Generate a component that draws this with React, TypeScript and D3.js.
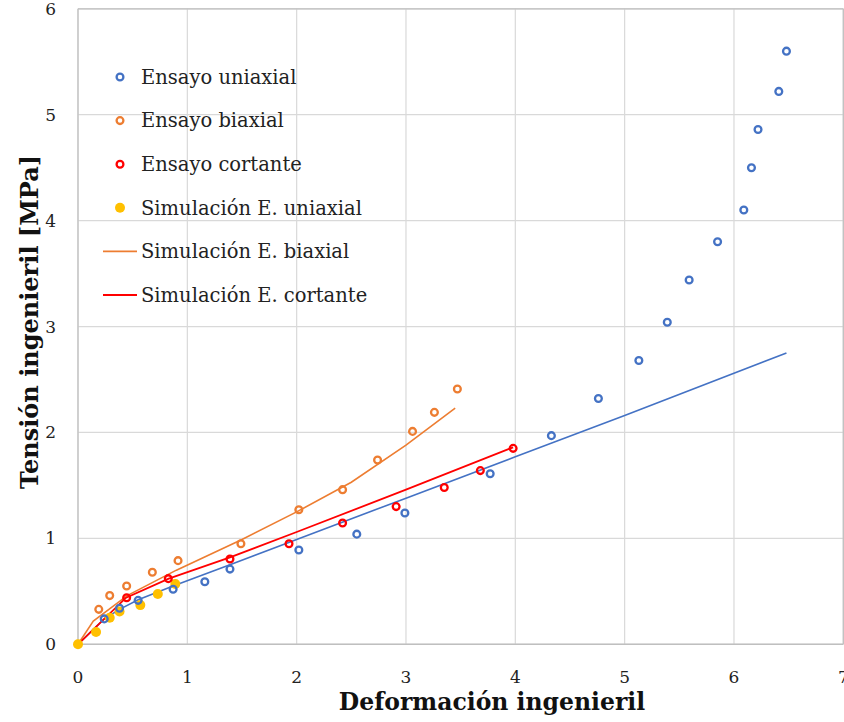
import React from 'react';
import * as d3 from 'd3';

type Pt = [number, number];

// Ensayo uniaxial (open blue circles)
const ensayoUniaxial: Pt[] = [
  [0.24, 0.24], [0.38, 0.34], [0.55, 0.415], [0.87, 0.52], [1.16, 0.59], [1.39, 0.71],
  [2.02, 0.89], [2.55, 1.04], [2.99, 1.24], [3.77, 1.61], [4.33, 1.97], [4.76, 2.32],
  [5.13, 2.68], [5.39, 3.04], [5.59, 3.44], [5.85, 3.80], [6.09, 4.10], [6.16, 4.50],
  [6.22, 4.86], [6.41, 5.22], [6.48, 5.60],
];
// Ensayo biaxial (open orange circles)
const ensayoBiaxial: Pt[] = [
  [0.19, 0.33], [0.29, 0.46], [0.445, 0.55], [0.68, 0.68], [0.915, 0.79], [1.49, 0.95],
  [2.02, 1.27], [2.42, 1.46], [2.74, 1.74], [3.06, 2.01], [3.26, 2.19], [3.47, 2.41],
];
// Ensayo cortante (open red circles)
const ensayoCortante: Pt[] = [
  [0.445, 0.44], [0.826, 0.62], [1.39, 0.805], [1.93, 0.95], [2.42, 1.145],
  [2.91, 1.30], [3.35, 1.48], [3.68, 1.64], [3.98, 1.85],
];
// Simulación E. uniaxial (filled yellow dots)
const simUniaxial: Pt[] = [
  [0, 0], [0.165, 0.116], [0.29, 0.25], [0.38, 0.31], [0.57, 0.37], [0.73, 0.475], [0.89, 0.57],
];
// Simulación E. biaxial (orange line)
const simBiaxial: Pt[] = [
  [0, 0], [0.14, 0.22], [0.45, 0.46], [0.9, 0.7], [1.5, 0.99], [2.0, 1.25],
  [2.5, 1.53], [3.0, 1.88], [3.45, 2.23],
];
// Simulación E. cortante (red line)
const simCortante: Pt[] = [
  [0, 0], [0.44, 0.44], [0.83, 0.62], [1.39, 0.82], [2.0, 1.06], [3.0, 1.46], [3.98, 1.86],
];
// blue line (no legend entry)
const simUniaxialLinea: Pt[] = [
  [0, 0], [0.24, 0.24], [0.38, 0.33], [0.55, 0.42], [0.87, 0.55], [1.39, 0.75],
  [2.0, 0.99], [3.0, 1.38], [4.0, 1.77], [5.0, 2.16], [6.48, 2.75],
];

const xTicks = [0, 1, 2, 3, 4, 5, 6, 7];
const yTicks = [0, 1, 2, 3, 4, 5, 6];

const BLUE = '#4472c4';
const ORANGE = '#ed7d31';
const RED = '#ff0000';
const YELLOW = '#ffc000';
const FONT = "'DejaVu Serif', serif";

export default function App() {
  const W = 844, H = 722;
  const x = d3.scaleLinear().domain([0, 7]).range([78, 843.3]);
  const y = d3.scaleLinear().domain([0, 6]).range([644.3, 8.8]);
  const line = d3.line<Pt>().x(d => x(d[0])).y(d => y(d[1]));

  const legend = [
    { label: 'Ensayo uniaxial', kind: 'open', color: BLUE },
    { label: 'Ensayo biaxial', kind: 'open', color: ORANGE },
    { label: 'Ensayo cortante', kind: 'open', color: RED },
    { label: 'Simulación E. uniaxial', kind: 'dot', color: YELLOW },
    { label: 'Simulación E. biaxial', kind: 'line', color: ORANGE },
    { label: 'Simulación E. cortante', kind: 'line', color: RED },
  ];

  const openCircles = (data: Pt[], color: string) =>
    data.map((d, i) => (
      <circle key={i} cx={x(d[0])} cy={y(d[1])} r={3.4} fill="none" stroke={color} strokeWidth={2.3} />
    ));

  return (
    <svg width={W} height={H} style={{ position: 'absolute', left: 0, top: 0, background: '#fff' }}>
      <rect width={W} height={H} fill="#fff" />
      {/* grid */}
      {xTicks.map(t => (
        <line key={'gx' + t} x1={x(t)} x2={x(t)} y1={y(6)} y2={y(0)} stroke="#d9d9d9" strokeWidth={1.2} />
      ))}
      {yTicks.map(t => (
        <line key={'gy' + t} x1={x(0)} x2={x(7)} y1={y(t)} y2={y(t)} stroke="#d9d9d9" strokeWidth={1.2} />
      ))}
      <line x1={x(0)} x2={x(7)} y1={y(0)} y2={y(0)} stroke="#bfbfbf" strokeWidth={1.5} />
      <line x1={x(0)} x2={x(0)} y1={y(0)} y2={y(6)} stroke="#bfbfbf" strokeWidth={1.2} />
      <line x1={x(0)} x2={x(7)} y1={y(6)} y2={y(6)} stroke="#bfbfbf" strokeWidth={1.2} />
      <line x1={x(7)} x2={x(7)} y1={y(0)} y2={y(6)} stroke="#bfbfbf" strokeWidth={1.2} />

      {/* tick labels */}
      {yTicks.map(t => (
        <text key={'ty' + t} x={56} y={y(t)} dy="0.35em" textAnchor="end" fontFamily={FONT} fontSize={17} fill="#222">
          {t}
        </text>
      ))}
      {xTicks.map(t => (
        <text key={'tx' + t} x={x(t)} y={683} textAnchor="middle" fontFamily={FONT} fontSize={17} fill="#222">
          {t}
        </text>
      ))}

      {/* axis titles */}
      <text x={492} y={710} textAnchor="middle" fontFamily={FONT} fontSize={23.5} fontWeight="bold" fill="#111">
        Deformación ingenieril
      </text>
      <text transform={`translate(38,322) rotate(-90)`} textAnchor="middle" fontFamily={FONT} fontSize={24} fontWeight="bold" fill="#111">
        Tensión ingenieril [MPa]
      </text>

      {/* lines */}
      <path d={line(simUniaxialLinea) || ''} fill="none" stroke={BLUE} strokeWidth={1.6} />
      <path d={line(simBiaxial) || ''} fill="none" stroke={ORANGE} strokeWidth={1.6} />
      <path d={line(simCortante) || ''} fill="none" stroke={RED} strokeWidth={1.8} />

      {/* points */}
      {simUniaxial.map((d, i) => (
        <circle key={'su' + i} cx={x(d[0])} cy={y(d[1])} r={5} fill={YELLOW} />
      ))}
      {openCircles(ensayoUniaxial, BLUE)}
      {openCircles(ensayoBiaxial, ORANGE)}
      {openCircles(ensayoCortante, RED)}

      {/* legend */}
      {legend.map((l, i) => {
        const cy = 77 + i * 43.6;
        return (
          <g key={'lg' + i}>
            {l.kind === 'open' && <circle cx={120} cy={cy} r={3.4} fill="none" stroke={l.color} strokeWidth={2.3} />}
            {l.kind === 'dot' && <circle cx={120} cy={cy} r={5} fill={l.color} />}
            {l.kind === 'line' && <line x1={103} x2={137} y1={cy} y2={cy} stroke={l.color} strokeWidth={1.8} />}
            <text x={141} y={cy} dy="0.35em" fontFamily={FONT} fontSize={19.5} fill="#222">
              {l.label}
            </text>
          </g>
        );
      })}
    </svg>
  );
}
